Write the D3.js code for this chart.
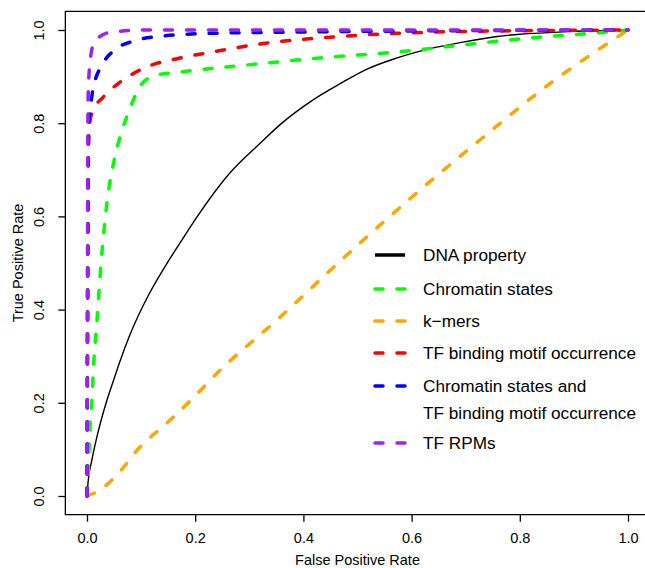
<!DOCTYPE html>
<html>
<head>
<meta charset="utf-8">
<script src="https://cdn.jsdelivr.net/npm/d3@7"></script>
<style>
  html, body { margin: 0; padding: 0; background: #fff; overflow: hidden; }
  svg { display: block; }
  text { font-family: "Liberation Sans", Arial, sans-serif; fill: #000; }
</style>
</head>
<body>
<div id="my_dataviz"></div>
<script>
// ROC curves, [false positive rate, true positive rate]
let dnaProperty = [[0,0],[0.002,0.03],[0.009,0.077],[0.02,0.135],[0.037,0.206],[0.049,0.248],[0.06,0.286],
  [0.079,0.345],[0.115,0.434],[0.151,0.505],[0.172,0.543],[0.204,0.6],[0.264,0.693],[0.32,0.757],
  [0.357,0.797],[0.418,0.85],[0.473,0.888],[0.51,0.912],[0.573,0.94],[0.634,0.96],[0.695,0.974],
  [0.758,0.986],[0.88,0.996],[1,1]];
let chromatinStates = [[0,0],[0.002,0.04],[0.005,0.135],[0.009,0.206],[0.012,0.277],[0.018,0.37],
  [0.026,0.5],[0.037,0.63],[0.052,0.73],[0.065,0.785],[0.079,0.83],[0.092,0.866],[0.104,0.888],
  [0.129,0.903],[0.172,0.91],[0.296,0.925],[0.431,0.94],[0.573,0.953],[0.695,0.968],[0.819,0.983],
  [0.943,0.994],[1,1]];
let kmers = [[0,0],[0.024,0.013],[0.055,0.045],[0.098,0.105],[0.148,0.157],[0.2,0.215],[0.233,0.255],
  [0.357,0.384],[0.481,0.518],[0.603,0.644],[0.726,0.764],[0.85,0.88],[1,1]];
let tfMotif = [[0,0],[0.001,0.3],[0.002,0.6],[0.003,0.76],[0.006,0.808],[0.011,0.826],[0.03,0.856],
  [0.061,0.888],[0.111,0.921],[0.172,0.94],[0.233,0.953],[0.325,0.971],[0.431,0.983],[0.573,0.993],
  [0.7,0.997],[1,1]];
let chromatinAndMotif = [[0,0],[0.001,0.4],[0.002,0.7],[0.003,0.79],[0.006,0.83],[0.011,0.872],
  [0.03,0.929],[0.055,0.96],[0.092,0.978],[0.14,0.987],[0.233,0.993],[0.418,0.996],[1,1]];
let tfRpms = [[0,0],[0.001,0.5],[0.002,0.85],[0.004,0.91],[0.007,0.945],[0.013,0.972],[0.024,0.986],
  [0.048,0.996],[0.111,1],[1,1]];

let seriesNames = ["DNA property", "Chromatin states", "k\u2212mers", "TF binding motif occurrence",
  ["Chromatin states and", "TF binding motif occurrence"], "TF RPMs"];
let seriesColors = ["#000000", "#00ff00", "#ffa500", "#ff0000", "#0000ff", "#a020f0"];
let seriesData = [dnaProperty, chromatinStates, kmers, tfMotif, chromatinAndMotif, tfRpms];
let ticks = [0, 0.2, 0.4, 0.6, 0.8, 1.0];

let svg = d3.select("#my_dataviz")
.append("svg")
  .attr("width", 645)
  .attr("height", 568);

// scales (R style: 4% padding around data range)
let x = d3.scaleLinear().domain([0, 1]).range([87, 628]);
let y = d3.scaleLinear().domain([0, 1]).range([496, 30]);

let x0 = x(-0.04), x1 = x(1.04), y0 = y(-0.04), y1 = y(1.04);

// frame (right side falls outside the picture, like the original)
svg.append("path")
  .attr("d", "M" + (x1 + 5) + "," + y1 + "H" + x0 + "V" + y0 + "H" + (x1 + 5))
  .attr("fill", "none").attr("stroke", "#000").attr("stroke-width", 1.3);

// x axis
let xAxis = svg.append("g")
  .attr("transform", "translate(0," + y0 + ")")
  .call(d3.axisBottom(x).tickValues(ticks).tickSize(7).tickPadding(11).tickFormat(d3.format(".1f")));
xAxis.select(".domain").remove();
xAxis.selectAll("line").attr("stroke-width", 1.3);
xAxis.selectAll("text").style("font-size", "14.5px").style("font-family", "Liberation Sans, Arial, sans-serif");

// y axis
let yAxis = svg.append("g")
  .attr("transform", "translate(" + x0 + ",0)")
  .call(d3.axisLeft(y).tickValues(ticks).tickSize(7).tickFormat(d3.format(".1f")));
yAxis.select(".domain").remove();
yAxis.selectAll("line").attr("stroke-width", 1.3);
yAxis.selectAll("text")
  .attr("x", null).attr("dy", null)
  .attr("text-anchor", "middle")
  .attr("transform", function(d){ return "translate(" + (43.5 - x0) + ",0) rotate(-90)"; })
  .attr("y", 0)
  .style("font-size", "14.5px").style("font-family", "Liberation Sans, Arial, sans-serif");

// axis titles
svg.append("text")
  .attr("x", (x0 + x1) / 2).attr("y", 565)
  .attr("text-anchor", "middle")
  .style("font-size", "14.5px")
  .text("False Positive Rate");
svg.append("text")
  .attr("transform", "translate(23," + ((y0 + y1) / 2) + ") rotate(-90)")
  .attr("text-anchor", "middle")
  .style("font-size", "14.5px")
  .text("True Positive Rate");

// curves
let line = d3.line()
  .x(function(d){ return x(d[0]); })
  .y(function(d){ return y(d[1]); })
  .curve(d3.curveMonotoneX);

// orange first, purple last so it sits on top like the original
let drawOrder = [2, 0, 1, 3, 4, 5];
drawOrder.forEach(function(i){
  svg.append("path")
    .datum(seriesData[i])
    .attr("d", line)
    .attr("fill", "none")
    .attr("stroke", seriesColors[i])
    .attr("stroke-width", i == 0 ? 1.4 : 3.5)
    .attr("stroke-linecap", i == 0 ? "butt" : "round")
    .attr("stroke-linejoin", "round")
    .attr("stroke-dasharray", i == 0 ? null : "8,14");
});

// legend
let legendY = [255, 289, 321, 353, 386, 443];
let legend = svg.append("g");
seriesNames.forEach(function(name, i){
  legend.append("line")
    .attr("x1", 375).attr("x2", 405)
    .attr("y1", legendY[i]).attr("y2", legendY[i])
    .attr("stroke", seriesColors[i])
    .attr("stroke-width", 3.5)
    .attr("stroke-linecap", i == 0 ? "butt" : "round")
    .attr("stroke-dasharray", i == 0 ? null : "8,14");
  let lines = Array.isArray(name) ? name : [name];
  lines.forEach(function(t, j){
    legend.append("text")
      .attr("x", 423)
      .attr("y", legendY[i] + j * 27)
      .attr("dy", "0.35em")
      .style("font-size", "17.2px")
      .text(t);
  });
});
</script>
</body>
</html>
